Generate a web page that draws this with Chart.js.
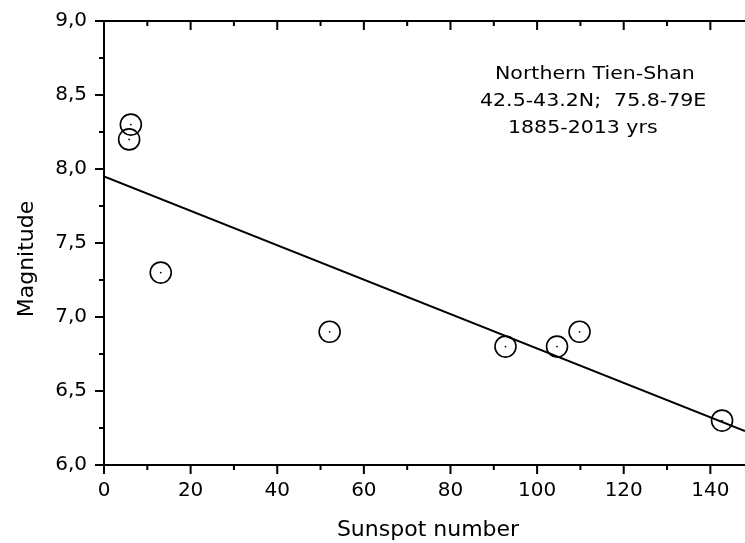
<!DOCTYPE html>
<html><head><meta charset="utf-8">
<script src="https://cdn.jsdelivr.net/npm/chart.js@4"></script>
<style>html,body{margin:0;padding:0;background:#fff}#wrap{width:745px;height:543px;position:relative}</style>
</head><body><div id="wrap"><canvas id="c" width="745" height="543"></canvas></div>
<script>
// ---- data ----
const sunspots   = [6.2, 5.8, 13.1, 52.1, 92.7, 104.6, 109.8, 142.7];
const magnitudes = [8.3, 8.2, 7.3, 6.9, 6.8, 6.8, 6.9, 6.3];
const fitX = [0, 148];
const fitY = [7.95, 6.23];
const xTicks = [0, 20, 40, 60, 80, 100, 120, 140];
const xMinorTicks = [10, 30, 50, 70, 90, 110, 130];
const yTicks = [6.0, 6.5, 7.0, 7.5, 8.0, 8.5, 9.0];
const yMinorTicks = [6.25, 6.75, 7.25, 7.75, 8.25, 8.75];
const noteLines = ["Northern Tien-Shan", "42.5-43.2N;  75.8-79E", "1885-2013 yrs"];
const xTitle = "Sunspot number";
const yTitle = "Magnitude";

const FONT = '"DejaVu Sans", sans-serif';

const framePlugin = {
  id: 'frame',
  afterDraw(chart) {
    const {ctx, chartArea: a, scales: {x, y}} = chart;
    ctx.save();
    ctx.strokeStyle = '#000';
    ctx.lineWidth = 2;
    ctx.beginPath();
    ctx.moveTo(a.right, a.top); ctx.lineTo(a.left, a.top);
    ctx.lineTo(a.left, a.bottom); ctx.lineTo(a.right, a.bottom);
    ctx.stroke();
    ctx.beginPath();
    const major = 9, minor = 5;
    xTicks.forEach(v => { const p = x.getPixelForValue(v);
      ctx.moveTo(p, a.bottom); ctx.lineTo(p, a.bottom + major);
      ctx.moveTo(p, a.top); ctx.lineTo(p, a.top + major); });
    xMinorTicks.forEach(v => { const p = x.getPixelForValue(v);
      ctx.moveTo(p, a.bottom); ctx.lineTo(p, a.bottom + minor);
      ctx.moveTo(p, a.top); ctx.lineTo(p, a.top + minor); });
    yTicks.forEach(v => { const p = y.getPixelForValue(v);
      ctx.moveTo(a.left, p); ctx.lineTo(a.left - major, p); });
    yMinorTicks.forEach(v => { const p = y.getPixelForValue(v);
      ctx.moveTo(a.left, p); ctx.lineTo(a.left - minor, p); });
    ctx.stroke();

    ctx.fillStyle = '#000';
    ctx.font = '22px ' + FONT;
    ctx.textAlign = 'center';
    ctx.textBaseline = 'alphabetic';
    ctx.fillText(xTitle, 428, 536);
    ctx.save();
    ctx.translate(33, 259);
    ctx.rotate(-Math.PI / 2);
    ctx.fillText(yTitle, 0, 0);
    ctx.restore();

    ctx.font = '18px ' + FONT;
    ctx.textAlign = 'left';
    const pos = [[495, 79], [480, 106], [508, 133]];
    noteLines.forEach((t, i) => {
      ctx.save();
      ctx.translate(pos[i][0], pos[i][1]);
      ctx.scale(1.14, 1);
      ctx.fillText(t, 0, 0);
      ctx.restore();
    });
    ctx.restore();
  }
};

const pts = sunspots.map((v, i) => ({x: v, y: magnitudes[i]}));
const fitPts = fitX.map((v, i) => ({x: v, y: fitY[i]}));

new Chart(document.getElementById('c'), {
  type: 'scatter',
  data: {
    datasets: [
      {data: fitPts, showLine: true, borderColor: '#000', borderWidth: 2, pointRadius: 0, fill: false},
      {data: pts, pointRadius: 10.5, pointHoverRadius: 10.5, borderWidth: 1.6, borderColor: '#000', backgroundColor: 'rgba(0,0,0,0)'},
      {data: pts, pointRadius: 0.9, pointHoverRadius: 0.9, borderWidth: 0, backgroundColor: '#000'}
    ]
  },
  options: {
    responsive: false,
    animation: false,
    devicePixelRatio: 1,
    layout: {autoPadding: false, padding: {top: 21, left: 0, right: 0, bottom: 0}},
    plugins: {legend: {display: false}, tooltip: {enabled: false}},
    scales: {
      x: {
        type: 'linear', min: 0, max: 148,
        afterBuildTicks: s => { s.ticks = xTicks.map(v => ({value: v})); },
        afterFit: s => { s.height = 78; s.paddingLeft = 0; s.paddingRight = 0; },
        grid: {display: false, drawTicks: false},
        border: {display: false},
        ticks: {font: {family: FONT, size: 20}, color: '#000', padding: 14, maxRotation: 0, autoSkip: false}
      },
      y: {
        type: 'linear', min: 6, max: 9,
        afterBuildTicks: s => { s.ticks = yTicks.map(v => ({value: v})); },
        afterFit: s => { s.width = 104; s.paddingTop = 0; s.paddingBottom = 0; },
        grid: {display: false, drawTicks: false},
        border: {display: false},
        ticks: {font: {family: FONT, size: 20}, color: '#000', padding: 17, autoSkip: false,
                callback: v => Number(v).toFixed(1).replace('.', ',')}
      }
    }
  },
  plugins: [framePlugin]
});
</script>
</body></html>
